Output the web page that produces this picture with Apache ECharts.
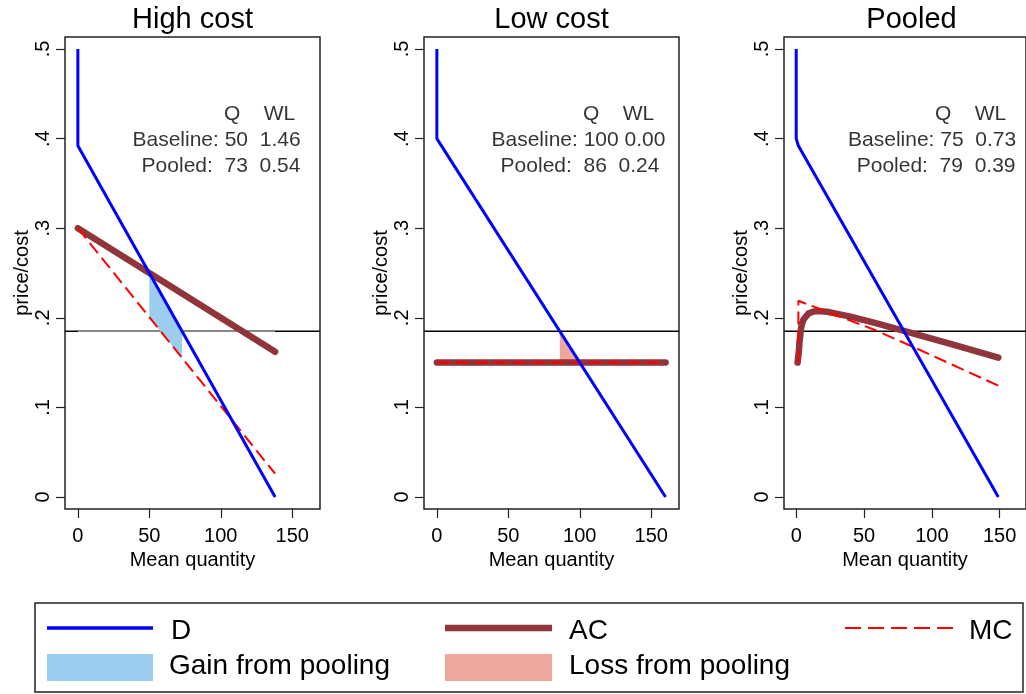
<!DOCTYPE html>
<html>
<head>
<meta charset="utf-8">
<title>Pooling</title>
<script src="https://cdn.jsdelivr.net/npm/echarts@6/dist/echarts.min.js"></script>
<style>
  html, body { margin: 0; padding: 0; background: #fff; }
  #chart { width: 1026px; height: 694px; }
</style>
</head>
<body>
<div id="chart"></div>
<script>
// 面板标题
const panelTitles = ['High cost', 'Low cost', 'Pooled']

// 坐标轴刻度
const xTicks = [0, 50, 100, 150]
const yTicks = [0, 0.1, 0.2, 0.3, 0.4, 0.5]
const xRange = [-9, 169.4]
const yRange = [-0.0134, 0.5134]

// 需求曲线 D
const demandQ = [
  [0, 0, 138],
  [0, 0, 160],
  [0, 0, 1.6, 149]
]
const demandP = [
  [0.5, 0.392, 0],
  [0.5, 0.4, 0],
  [0.5, 0.4, 0.392, 0]
]

// 平均成本 AC
const acQ = [
  [0, 138],
  [0, 160],
  [1, 1.6, 1.98, 2.35, 3.48, 4.42, 5.36, 9.12, 12.88, 16.64, 24.16, 39.2, 58, 79.4, 114.4, 149]
]
const acP = [
  [0.3, 0.162],
  [0.15, 0.15],
  [0.15, 0.15, 0.163, 0.172, 0.1875, 0.194, 0.198, 0.205, 0.207, 0.2075, 0.2064, 0.2016, 0.1943, 0.1853, 0.1705, 0.1556]
]

// 边际成本 MC
const mcQ = [
  [0, 138],
  [0, 160],
  [1.6, 1.6, 13, 58, 86, 149.5]
]
const mcP = [
  [0.3, 0.026],
  [0.15, 0.15],
  [0.15, 0.219, 0.2124, 0.1864, 0.1677, 0.1239]
]

// 合并定价
const pooledPrice = 0.185
const pooledShadeQ = [0, 138]

// 收益 / 损失区域
const gainQ = [50, 72.9, 72.9, 50]
const gainP = [0.25, 0.185, 0.155, 0.2]
const lossQ = [86, 100, 86]
const lossP = [0.185, 0.15, 0.15]

// 右上角表格
const rowNames = ['Baseline:', 'Pooled:']
const baselineQ = ['50', '100', '75']
const baselineWL = ['1.46', '0.00', '0.73']
const pooledQ = ['73', '86', '79']
const pooledWL = ['0.54', '0.24', '0.39']

const FONT = "'Liberation Sans', Arial, sans-serif"
const BLUE = '#0000ff'
const MAROON = '#90353b'
const RED = '#ff0000'
const GAIN = '#9ccdee'
const LOSS = '#eea69d'

const gridLeft = [65, 424, 784]
const gridTop = 37
const gridW = 255
const gridH = 472

const pts = (xs, ys) => xs.map((x, k) => [x, ys[k]])

const chart = echarts.init(document.getElementById('chart'))

function lineSeries (i, xs, ys, style, z) {
  return {
    type: 'line',
    xAxisIndex: i,
    yAxisIndex: i,
    data: pts(xs, ys),
    symbol: 'none',
    showSymbol: false,
    silent: true,
    lineStyle: style,
    z: z
  }
}

function polygonSeries (i, xs, ys, color) {
  return {
    type: 'custom',
    xAxisIndex: i,
    yAxisIndex: i,
    silent: true,
    data: [[xs[0], ys[0]]],
    renderItem (params, api) {
      const points = xs.map((x, k) => api.coord([x, ys[k]]))
      return { type: 'polygon', shape: { points: points }, style: { fill: color } }
    },
    z: 3
  }
}

// 表格文字，左对齐
function tableSeries (i) {
  const rows = [
    { value: [102.3, 0.4275], text: 'Q    WL' },
    { value: [38.2, 0.3984], text: rowNames[0] + ' ' + baselineQ[i].padEnd(3) + ' ' + baselineWL[i] },
    { value: [44.6, 0.3694], text: rowNames[1] + '  ' + pooledQ[i].padEnd(3) + ' ' + pooledWL[i] }
  ]
  return {
    type: 'scatter',
    xAxisIndex: i,
    yAxisIndex: i,
    silent: true,
    symbolSize: 1,
    itemStyle: { color: 'rgba(0,0,0,0)' },
    data: rows.map(d => ({ value: d.value, label: { formatter: d.text } })),
    label: {
      show: true,
      position: 'inside',
      align: 'left',
      verticalAlign: 'middle',
      color: '#000',
      fontSize: 21,
      fontFamily: FONT
    },
    z: 6
  }
}

const grids = []
const xAxes = []
const yAxes = []
const titles = []
const series = []

for (let i = 0; i < 3; i++) {
  grids.push({
    left: gridLeft[i],
    top: gridTop,
    width: gridW,
    height: gridH,
    show: true,
    borderColor: '#222',
    borderWidth: 1.5,
    backgroundColor: '#fff'
  })
  titles.push({
    text: panelTitles[i],
    left: gridLeft[i] + gridW / 2,
    top: 5,
    textAlign: 'center',
    padding: 0,
    textStyle: { fontSize: 29, fontWeight: 'normal', color: '#000', fontFamily: FONT }
  })
  xAxes.push({
    gridIndex: i,
    type: 'value',
    min: xRange[0],
    max: xRange[1],
    axisLine: { show: false, onZero: false },
    splitLine: { show: false },
    axisTick: { customValues: xTicks, length: 9, lineStyle: { color: '#222', width: 1.2 } },
    axisLabel: { customValues: xTicks, margin: 17, fontSize: 20, color: '#000', fontFamily: FONT },
    name: 'Mean quantity',
    nameLocation: 'middle',
    nameGap: 38,
    nameTextStyle: { fontSize: 20, color: '#000', fontFamily: FONT }
  })
  yAxes.push({
    gridIndex: i,
    type: 'value',
    min: yRange[0],
    max: yRange[1],
    axisLine: { show: false, onZero: false },
    splitLine: { show: false },
    axisTick: { customValues: yTicks, length: 9, lineStyle: { color: '#222', width: 1.2 } },
    axisLabel: {
      customValues: yTicks,
      rotate: 90,
      margin: 12,
      fontSize: 20,
      color: '#000',
      fontFamily: FONT,
      formatter: v => (v === 0 ? '0' : Number(v).toFixed(1).replace(/^0/, ''))
    },
    name: 'price/cost',
    nameLocation: 'middle',
    nameGap: 32,
    nameTextStyle: { fontSize: 20, color: '#000', fontFamily: FONT }
  })

  // 合并价格水平线
  series.push(lineSeries(i, xRange, [pooledPrice, pooledPrice], { color: '#000', width: 1.5 }, 1))

  if (i === 0) {
    series.push(lineSeries(i, pooledShadeQ, [pooledPrice, pooledPrice], { color: '#8a8a8a', width: 1.6 }, 2))
    series.push(polygonSeries(i, gainQ, gainP, GAIN))
  }
  if (i === 1) {
    series.push(polygonSeries(i, lossQ, lossP, LOSS))
  }

  series.push(lineSeries(i, acQ[i], acP[i], { color: MAROON, width: 6.5, cap: 'round', join: 'round' }, 4))
  series.push(lineSeries(i, mcQ[i], mcP[i], { color: RED, width: 2, type: [13, 6] }, 5))
  series.push(lineSeries(i, demandQ[i], demandP[i], { color: BLUE, width: 3, join: 'round' }, 5))
  series.push(tableSeries(i))
}

// 图例
const legendText = (text, x, y) => ({
  type: 'text',
  x: x,
  y: y,
  style: { text: text, fontSize: 28, fontFamily: FONT, fill: '#000', verticalAlign: 'middle' }
})

const legendGraphic = [
  { type: 'rect', shape: { x: 35, y: 603, width: 988, height: 89 }, style: { fill: 'none', stroke: '#222', lineWidth: 1.5 } },
  { type: 'line', shape: { x1: 47, y1: 628, x2: 153, y2: 628 }, style: { stroke: BLUE, lineWidth: 3.5 } },
  legendText('D', 171, 631),
  { type: 'line', shape: { x1: 445, y1: 628, x2: 552, y2: 628 }, style: { stroke: MAROON, lineWidth: 6.5 } },
  legendText('AC', 569, 631),
  { type: 'line', shape: { x1: 845, y1: 628, x2: 953, y2: 628 }, style: { stroke: RED, lineWidth: 2, lineDash: [16, 7] } },
  legendText('MC', 969, 631),
  { type: 'rect', shape: { x: 47, y: 654, width: 106, height: 27 }, style: { fill: GAIN } },
  legendText('Gain from pooling', 169, 666),
  { type: 'rect', shape: { x: 445, y: 654, width: 107, height: 27 }, style: { fill: LOSS } },
  legendText('Loss from pooling', 569, 666)
]

chart.setOption({
  animation: false,
  backgroundColor: '#fff',
  title: titles,
  grid: grids,
  xAxis: xAxes,
  yAxis: yAxes,
  series: series,
  graphic: legendGraphic
})
</script>
</body>
</html>
